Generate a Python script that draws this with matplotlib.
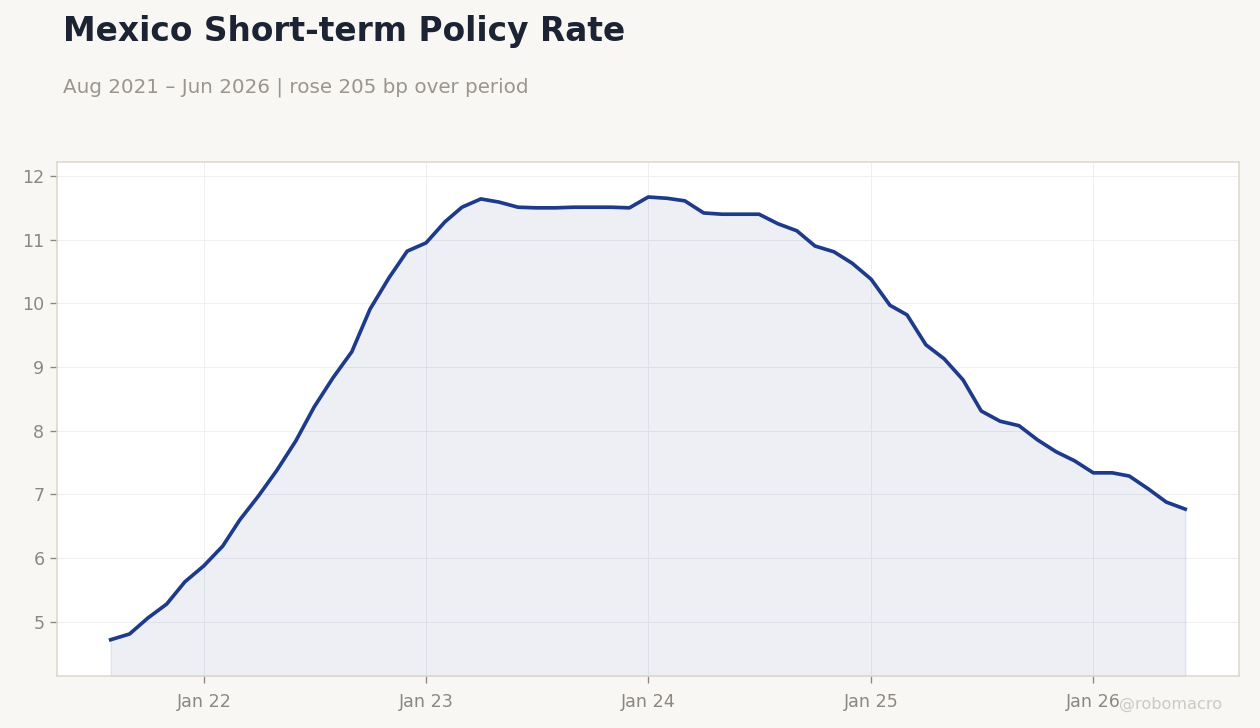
import pandas as pd
import matplotlib
matplotlib.use("Agg")
import matplotlib.pyplot as plt
import matplotlib.dates as mdates

# monthly policy rate, Aug 2021 - Jun 2026
months = pd.date_range("2021-08-01", "2026-06-01", freq="MS")
rate = [4.72, 4.81, 5.06, 5.28, 5.63,
        5.88, 6.19, 6.60, 6.98, 7.38, 7.84, 8.37, 8.83, 9.24, 9.91, 10.40, 10.82,
        10.95, 11.28, 11.51, 11.64, 11.59, 11.51, 11.50, 11.50, 11.51, 11.51, 11.51, 11.50,
        11.67, 11.65, 11.61, 11.42, 11.40, 11.40, 11.40, 11.25, 11.14, 10.90, 10.81, 10.63,
        10.38, 9.97, 9.82, 9.35, 9.13, 8.80, 8.31, 8.15, 8.08, 7.86, 7.67, 7.53,
        7.34, 7.34, 7.29, 7.09, 6.88, 6.77]

title = "Mexico Short-term Policy Rate"
subtitle = "Aug 2021 – Jun 2026 | rose 205 bp over period"

bg = "#f8f7f4"
navy = "#1e3a8a"
grey = "#8c8782"
y_lo, y_hi = 4.15, 12.22

fig = plt.figure(figsize=(10.5, 728 / 120), dpi=120, facecolor=bg)
ax = fig.add_axes([0.0452, 0.0714, 0.9381, 0.7061])
ax.set_facecolor("white")

ax.fill_between(months, rate, y_lo, color=navy, alpha=0.08, linewidth=1)
ax.plot(months, rate, color=navy, linewidth=2.2)

ax.set_ylim(y_lo, y_hi)
ax.margins(x=0.05)
ax.xaxis.set_major_locator(mdates.YearLocator())
ax.xaxis.set_major_formatter(mdates.DateFormatter("%b %y"))

ax.grid(True, color="#efefef", linewidth=0.6)
ax.set_axisbelow(True)
for s in ax.spines.values():
    s.set_color("#ddd6cc")
    s.set_linewidth(0.9)
ax.tick_params(colors=grey, labelsize=10.5, length=4, width=0.8)
ax.tick_params(axis="x", pad=6)

fig.text(0.05, 0.9437, title, fontsize=19.75, fontweight="bold", color="#1c2333", va="baseline")
fig.text(0.05, 0.8736, subtitle, fontsize=11.95, color="#9a9590", va="baseline")
fig.text(0.970, 0.032, "@robomacro", fontsize=9.7, color="#cdc9c4", ha="right", va="center")

fig.savefig("out.png", dpi=120, facecolor=bg)
